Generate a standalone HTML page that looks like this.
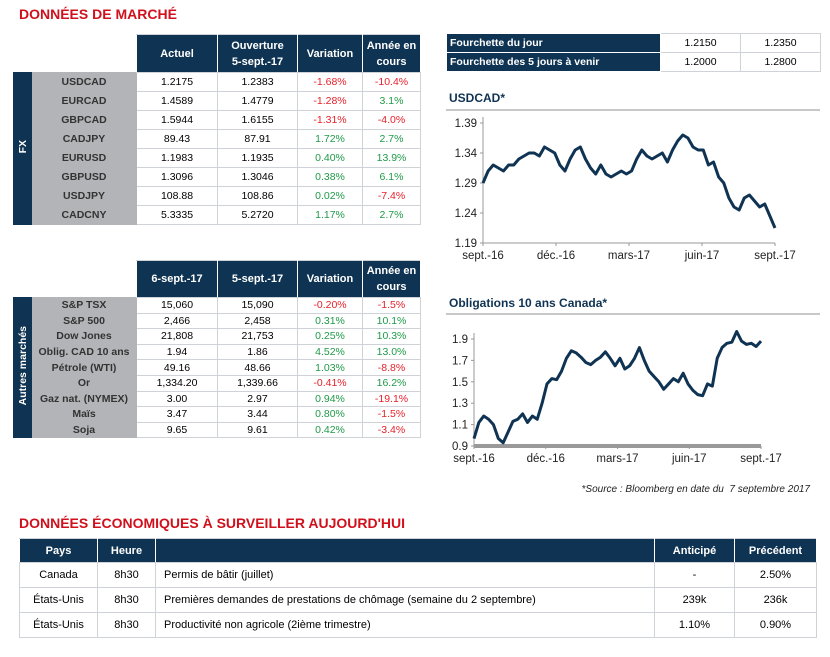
<!DOCTYPE html>
<html><head><meta charset="utf-8">
<style>
body{margin:0;width:830px;height:657px;background:#fff;font-family:"Liberation Sans",sans-serif;position:relative;overflow:hidden}
.t{position:absolute;color:#d0101c;font-weight:bold;font-size:14px}
table{position:absolute;border-collapse:collapse;font-size:10.5px}
td,th{border:1px solid #cfd2d6;text-align:center;padding:0;white-space:nowrap}
th{background:#0f3352;color:#fff;font-weight:bold;font-size:11px;line-height:16px;border-color:#cfd2d6 #fff}
td.l{background:#b2b4b7;color:#333;font-weight:bold;border-color:#b2b4b7}
td.b{background:#0f3352;color:#fff;font-weight:bold;border-color:#0f3352;width:17px}
.vt{writing-mode:vertical-rl;transform:rotate(180deg);display:inline-block}
.r{color:#e8202a}.g{color:#1f9a48}
td.h{background:#0f3352;color:#fff;font-weight:bold;text-align:left;padding-left:3px;border-color:#fff}
.ct{position:absolute;color:#0f3352;font-weight:bold;font-size:12px}
.rule{position:absolute;height:2px;background:#c6c8ca}
</style></head><body>
<div class="t" style="left:19px;top:6px">DONNÉES DE MARCHÉ</div>

<table style="left:13px;top:34px;width:408px">
<tr style="height:38px"><td colspan="2" style="border:none;background:#fff"></td><th style="width:80px">Actuel</th><th style="width:79px">Ouverture<br>5-sept.-17</th><th style="width:64px">Variation</th><th style="width:57px">Année en<br>cours</th></tr>
<tr style="height:19px"><td class="b" rowspan="8"><span class="vt">FX</span></td><td class="l">USDCAD</td><td>1.2175</td><td>1.2383</td><td class="r">-1.68%</td><td class="r">-10.4%</td></tr>
<tr style="height:19px"><td class="l">EURCAD</td><td>1.4589</td><td>1.4779</td><td class="r">-1.28%</td><td class="g">3.1%</td></tr>
<tr style="height:19px"><td class="l">GBPCAD</td><td>1.5944</td><td>1.6155</td><td class="r">-1.31%</td><td class="r">-4.0%</td></tr>
<tr style="height:19px"><td class="l">CADJPY</td><td>89.43</td><td>87.91</td><td class="g">1.72%</td><td class="g">2.7%</td></tr>
<tr style="height:19px"><td class="l">EURUSD</td><td>1.1983</td><td>1.1935</td><td class="g">0.40%</td><td class="g">13.9%</td></tr>
<tr style="height:19px"><td class="l">GBPUSD</td><td>1.3096</td><td>1.3046</td><td class="g">0.38%</td><td class="g">6.1%</td></tr>
<tr style="height:19px"><td class="l">USDJPY</td><td>108.88</td><td>108.86</td><td class="g">0.02%</td><td class="r">-7.4%</td></tr>
<tr style="height:19px"><td class="l">CADCNY</td><td>5.3335</td><td>5.2720</td><td class="g">1.17%</td><td class="g">2.7%</td></tr>
</table>

<table style="left:13px;top:260px;width:408px">
<tr style="height:37px"><td colspan="2" style="border:none;background:#fff"></td><th style="width:80px">6-sept.-17</th><th style="width:79px">5-sept.-17</th><th style="width:64px">Variation</th><th style="width:57px">Année en<br>cours</th></tr>
<tr style="height:15.6px"><td class="b" rowspan="9"><span class="vt">Autres marchés</span></td><td class="l">S&amp;P TSX</td><td>15,060</td><td>15,090</td><td class="r">-0.20%</td><td class="r">-1.5%</td></tr>
<tr style="height:15.6px"><td class="l">S&amp;P 500</td><td>2,466</td><td>2,458</td><td class="g">0.31%</td><td class="g">10.1%</td></tr>
<tr style="height:15.6px"><td class="l">Dow Jones</td><td>21,808</td><td>21,753</td><td class="g">0.25%</td><td class="g">10.3%</td></tr>
<tr style="height:15.6px"><td class="l">Oblig. CAD 10 ans</td><td>1.94</td><td>1.86</td><td class="g">4.52%</td><td class="g">13.0%</td></tr>
<tr style="height:15.6px"><td class="l">Pétrole (WTI)</td><td>49.16</td><td>48.66</td><td class="g">1.03%</td><td class="r">-8.8%</td></tr>
<tr style="height:15.6px"><td class="l">Or</td><td>1,334.20</td><td>1,339.66</td><td class="r">-0.41%</td><td class="g">16.2%</td></tr>
<tr style="height:15.6px"><td class="l">Gaz nat. (NYMEX)</td><td>3.00</td><td>2.97</td><td class="g">0.94%</td><td class="r">-19.1%</td></tr>
<tr style="height:15.6px"><td class="l">Maïs</td><td>3.47</td><td>3.44</td><td class="g">0.80%</td><td class="r">-1.5%</td></tr>
<tr style="height:15.6px"><td class="l">Soja</td><td>9.65</td><td>9.61</td><td class="g">0.42%</td><td class="r">-3.4%</td></tr>
</table>

<table style="left:446px;top:33px;width:375px">
<tr style="height:19px"><td class="h" style="width:210px">Fourchette du jour</td><td>1.2150</td><td>1.2350</td></tr>
<tr style="height:19px"><td class="h">Fourchette des 5 jours à venir</td><td>1.2000</td><td>1.2800</td></tr>
</table>

<div class="ct" style="left:449px;top:91px">USDCAD*</div>
<div class="rule" style="left:446px;top:109px;width:374px"></div>
<svg id="c1" style="position:absolute;left:430px;top:112px" width="400" height="160"></svg>

<div class="ct" style="left:449px;top:296px">Obligations 10 ans Canada*</div>
<div class="rule" style="left:446px;top:313px;width:374px"></div>
<svg id="c2" style="position:absolute;left:430px;top:316px" width="400" height="160"></svg>

<div style="position:absolute;left:560px;top:484px;width:250px;text-align:right;font-size:10px;font-style:italic;color:#222">*Source : Bloomberg en date du&nbsp; 7 septembre 2017</div>

<div class="t" style="left:19px;top:515px">DONNÉES ÉCONOMIQUES À SURVEILLER AUJOURD'HUI</div>
<table style="left:19px;top:538px;width:798px;font-size:11px">
<tr style="height:24px"><th style="width:77px">Pays</th><th style="width:57px">Heure</th><th></th><th style="width:79px">Anticipé</th><th style="width:81px">Précédent</th></tr>
<tr style="height:25px"><td>Canada</td><td>8h30</td><td style="text-align:left;padding-left:8px">Permis de bâtir (juillet)</td><td>-</td><td>2.50%</td></tr>
<tr style="height:25px"><td>États-Unis</td><td>8h30</td><td style="text-align:left;padding-left:8px">Premières demandes de prestations de chômage (semaine du 2 septembre)</td><td>239k</td><td>236k</td></tr>
<tr style="height:25px"><td>États-Unis</td><td>8h30</td><td style="text-align:left;padding-left:8px">Productivité non agricole (2ième trimestre)</td><td>1.10%</td><td>0.90%</td></tr>
</table>

<script>
const usdcadValues=[1.29,1.31,1.32,1.315,1.31,1.32,1.32,1.33,1.335,1.34,1.34,1.335,1.35,1.345,1.34,1.32,1.31,1.33,1.345,1.35,1.33,1.315,1.305,1.32,1.305,1.30,1.305,1.31,1.305,1.31,1.33,1.345,1.335,1.33,1.335,1.34,1.325,1.345,1.36,1.37,1.365,1.35,1.345,1.345,1.32,1.325,1.30,1.29,1.265,1.25,1.245,1.265,1.27,1.26,1.25,1.255,1.235,1.215];
const usdcadTicks=[1.19,1.24,1.29,1.34,1.39];
const bondValues=[0.97,1.12,1.18,1.15,1.10,0.97,0.93,1.03,1.13,1.15,1.20,1.12,1.18,1.15,1.30,1.48,1.53,1.52,1.60,1.72,1.79,1.77,1.73,1.68,1.66,1.70,1.73,1.78,1.72,1.65,1.72,1.62,1.65,1.72,1.82,1.70,1.60,1.55,1.50,1.43,1.48,1.53,1.50,1.58,1.48,1.42,1.38,1.37,1.48,1.46,1.72,1.82,1.86,1.87,1.97,1.88,1.85,1.86,1.83,1.88];
const bondTicks=[0.9,1.1,1.3,1.5,1.7,1.9];
const dateLabels=["sept.-16","déc.-16","mars-17","juin-17","sept.-17"];
const NS="http://www.w3.org/2000/svg";
function mk(svg,tag,at){const e=document.createElementNS(NS,tag);for(const k in at)e.setAttribute(k,at[k]);svg.appendChild(e);return e;}
function chart(id,vals,ticks,x0,x1,yTop,yBot,vmin,vmax,dec,thickAxis){
 const s=document.getElementById(id);
 const X=i=>x0+(x1-x0)*i/(vals.length-1);
 const Y=v=>yBot-(v-vmin)/(vmax-vmin)*(yBot-yTop);
 mk(s,'line',{x1:x0,y1:yTop-6,x2:x0,y2:yBot,stroke:'#999','stroke-width':1});
 mk(s,'line',{x1:x0,y1:yBot,x2:x1,y2:yBot,stroke:'#999','stroke-width':thickAxis?4:1});
 ticks.forEach(t=>{
  mk(s,'line',{x1:x0-3,y1:Y(t),x2:x0,y2:Y(t),stroke:'#999'});
  const tx=mk(s,'text',{x:x0-6,y:Y(t)+4,'text-anchor':'end','font-size':11.5,fill:'#222','font-family':'Liberation Sans'});
  tx.textContent=t.toFixed(dec);
  
  
 });
 dateLabels.forEach((d,i)=>{
  const x=x0+(x1-x0)*i/(dateLabels.length-1);
  mk(s,'line',{x1:x,y1:yBot,x2:x,y2:yBot+3,stroke:'#999'});
  const tx=mk(s,'text',{x:x,y:yBot+16,'text-anchor':'middle','font-size':11.5,fill:'#222','font-family':'Liberation Sans'});
  tx.textContent=d;
  
  
 });
 const p=mk(s,'polyline',{points:vals.map((v,i)=>X(i)+','+Y(v)).join(' '),fill:'none',stroke:'#0f3352','stroke-width':3,'stroke-linejoin':'round'});
 
 
}
chart('c1',usdcadValues,usdcadTicks,53,345,11,131,1.19,1.39,2,false);
chart('c2',bondValues,bondTicks,44,331,23,130,0.9,1.9,1,true);
</script>
</body></html>
